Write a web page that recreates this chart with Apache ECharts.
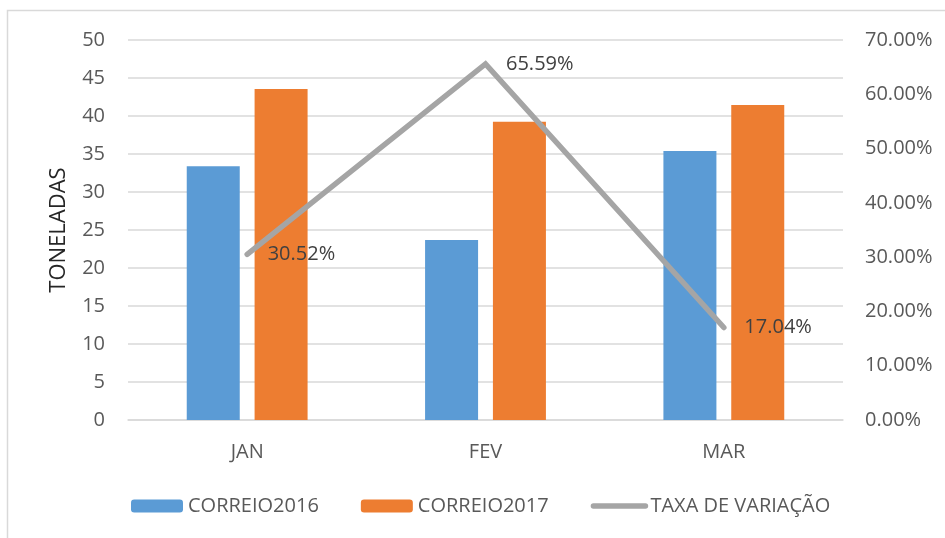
<!DOCTYPE html>
<html><head><meta charset="utf-8">
<script src="https://cdn.jsdelivr.net/npm/echarts@6/dist/echarts.min.js"></script>
<style>html,body{margin:0;padding:0;background:#fff}#c{width:945px;height:538px}</style>
</head><body><div id="c"></div>
<script>
const categories = ['JAN', 'FEV', 'MAR'];
const correio2016 = [33.4, 23.7, 35.4];
const correio2017 = [43.55, 39.25, 41.45];
const taxaVariacao = [0.3052, 0.6559, 0.1704];
const leftTicks = [0, 50, 5];
const rightTicks = [0, 0.7, 0.1];

const font = 'Open Sans';
const chart = echarts.init(document.getElementById('c'));
chart.setOption({
  backgroundColor: '#fff',
  animation: false,
  textStyle: { fontFamily: font },
  graphic: [{ type: 'rect', shape: { x: 7.5, y: 10.5, width: 960, height: 560 }, style: { fill: 'none', stroke: '#d9d9d9', lineWidth: 1.5 }, silent: true }],
  grid: { left: 128, right: 102, top: 40, bottom: 118, outerBoundsMode: 'none' },
  legend: {
    left: 126, top: 491, itemWidth: 52, itemHeight: 13, itemGap: 42,
    textStyle: { fontFamily: font, fontSize: 20, color: '#595959' },
    data: ['CORREIO2016', 'CORREIO2017',
      { name: 'TAXA DE VARIAÇÃO', itemStyle: { opacity: 0 }, lineStyle: { width: 5.5, cap: 'round', color: '#a5a5a5' } }]
  },
  xAxis: {
    type: 'category', data: categories,
    axisLine: { lineStyle: { color: '#d9d9d9', width: 1.5 } },
    axisTick: { show: false },
    axisLabel: { fontFamily: font, fontSize: 20, color: '#595959', margin: 22 }
  },
  yAxis: [{
    type: 'value', min: leftTicks[0], max: leftTicks[1], interval: leftTicks[2],
    name: 'TONELADAS', nameLocation: 'middle', nameGap: 58,
    nameTextStyle: { fontFamily: font, fontSize: 22, color: '#262626' },
    axisLine: { show: false }, axisTick: { show: false },
    axisLabel: { fontFamily: font, fontSize: 20, color: '#595959', margin: 23 },
    splitLine: { lineStyle: { color: '#d9d9d9', width: 1.5 } }
  }, {
    type: 'value', position: 'right', min: rightTicks[0], max: rightTicks[1], interval: rightTicks[2],
    axisLine: { show: false }, axisTick: { show: false },
    axisLabel: { fontFamily: font, fontSize: 20, color: '#595959', margin: 22, align: 'left',
      formatter: v => (v * 100).toFixed(2) + '%' },
    splitLine: { show: false }
  }],
  series: [{
    name: 'CORREIO2016', type: 'bar', data: correio2016, barWidth: 53, barGap: '28%',
    itemStyle: { color: '#5b9bd5' }
  }, {
    name: 'CORREIO2017', type: 'bar', data: correio2017, barWidth: 53,
    itemStyle: { color: '#ed7d31' }
  }, {
    name: 'TAXA DE VARIAÇÃO', type: 'line', yAxisIndex: 1, data: taxaVariacao,
    symbol: 'circle', symbolSize: 1, showSymbol: true,
    itemStyle: { color: 'rgba(165,165,165,0)' },
    lineStyle: { color: '#a5a5a5', width: 5.5, cap: 'round', join: 'miter' },
    label: { show: true, position: 'right', distance: 20, fontFamily: font, fontSize: 20, color: '#404040',
      formatter: p => (p.value * 100).toFixed(2) + '%' }
  }]
});
</script></body></html>
